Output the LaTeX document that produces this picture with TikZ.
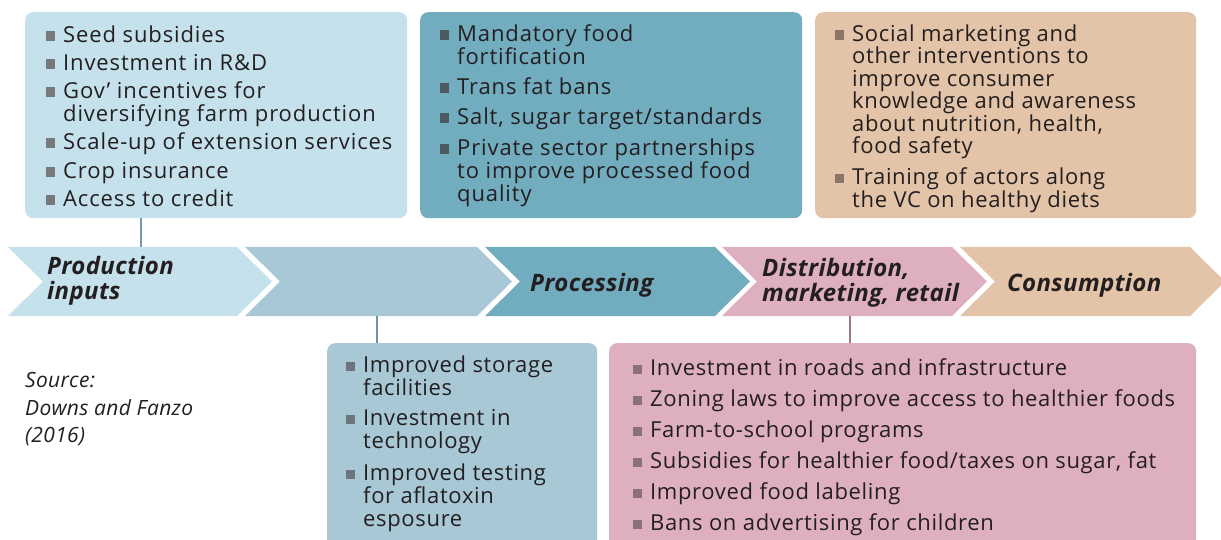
\documentclass[tikz,border=0pt]{standalone}
\usepackage{fontspec}
\setmainfont{Open Sans}
\newfontfamily\itmfont[LetterSpace=3]{Open Sans}
\newfontfamily\itmwfont[LetterSpace=4]{Open Sans}
\newfontfamily\labfont[LetterSpace=1.5]{Open Sans}
\definecolor{lb}{HTML}{C5E1EC}
\definecolor{mb}{HTML}{A8C8D5}
\definecolor{db}{HTML}{72ACBF}
\definecolor{pk}{HTML}{DEAFBF}
\definecolor{tn}{HTML}{E3C4A8}
\definecolor{txt}{HTML}{231F20}
\definecolor{lnA}{HTML}{6E9BAC}
\definecolor{lnB}{HTML}{6E95A4}
\definecolor{lnC}{HTML}{9E7783}
\definecolor{buA}{HTML}{77797C}
\definecolor{buB}{HTML}{4A5B62}
\definecolor{buC}{HTML}{8B7567}
\definecolor{buD}{HTML}{6C757B}
\definecolor{buE}{HTML}{8B6F79}
\newcommand\bitem[2]{\llap{\textcolor{#1}{\rule[1.5pt]{9.5pt}{9.5pt}}\hspace{8pt}}#2}
\begin{document}
\begin{tikzpicture}[x=1pt,y=-1pt,
  box/.style={rectangle, rounded corners=8pt, minimum height=206pt, minimum width=382pt, anchor=north west, inner sep=0pt, draw=none},
  itm/.style={anchor=base west, inner sep=0pt, align=left, text=txt, font=\itmfont\fontsize{22}{23}\selectfont},
  itmw/.style={itm, font=\itmwfont\fontsize{22}{23}\selectfont},
  itmc/.style={itm, font=\itmfont\fontsize{22}{22.5}\selectfont},
  chlab/.style={anchor=base west, inner sep=0pt, align=left, text=txt, font=\labfont\fontsize{24}{24.5}\selectfont\bfseries\itshape},
  conn/.style={line width=2.6pt},
]
\useasboundingbox (0,0) rectangle (1221,540);
\clip (0,0) rectangle (1221,540);

% top boxes
\node[box, fill=lb] (B1) at (25,12) {};
\node[box, fill=db] (B2) at (420,12) {};
\node[box, fill=tn, minimum width=381pt] (B3) at (815,12) {};
% bottom boxes
\node[box, fill=mb, minimum width=270pt, minimum height=220pt] (BL) at (327,343) {};
\node[box, fill=pk, minimum width=587pt, minimum height=220pt] (BR) at (609,343) {};

% chevrons
\fill[lb] (8,247) -- (237,247) -- (272,281.5) -- (237,316) -- (8,316) -- (43,281.5) -- cycle;
\fill[mb] (245,247) -- (477,247) -- (512,281.5) -- (477,316) -- (245,316) -- (280,281.5) -- cycle;
\fill[db] (485,247) -- (715,247) -- (750,281.5) -- (715,316) -- (485,316) -- (520,281.5) -- cycle;
\fill[pk] (722,247) -- (952,247) -- (987,281.5) -- (952,316) -- (722,316) -- (757,281.5) -- cycle;
\fill[tn] (960,247) -- (1190,247) -- (1225,281.5) -- (1190,316) -- (960,316) -- (995,281.5) -- cycle;

\coordinate (c1) at (141,247);
\coordinate (c2) at (377,316);
\coordinate (c3) at (850,316);

\node[chlab] (L1) at (47,299) {Production\\inputs};
\node[chlab] (L3) at (530,291) {Processing};
\node[chlab] (L4) at (762,301) {Distribution,\\marketing, retail};
\node[chlab] (L5) at (1007,291) {Consumption};

% connectors
\draw[conn, lnA] (B1.south -| c1) -- (c1);
\draw[conn, lnB] (c2) -- (BL.north -| c2);
\draw[conn, lnC] (c3) -- (BR.north -| c3);

\begin{scope}[yshift=-1.5pt]
% box 1 items
\node[itmw] (a1) at (63,41) {\bitem{buA}{Seed subsidies}};
\node[itmw] (a2) at (63,69) {\bitem{buA}{Investment in R\&D}};
\node[itmw] (a3) at (63,120) {\bitem{buA}{Gov’ incentives for}\\diversifying farm production};
\node[itmw] (a4) at (63,148) {\bitem{buA}{Scale-up of extension services}};
\node[itmw] (a5) at (63,177) {\bitem{buA}{Crop insurance}};
\node[itmw] (a6) at (63,205) {\bitem{buA}{Access to credit}};

% box 2 items
\node[itmw] (b1) at (457,63) {\bitem{buB}{Mandatory food}\\fortification};
\node[itmw] (b2) at (457,93) {\bitem{buB}{Trans fat bans}};
\node[itmw] (b3) at (457,123) {\bitem{buB}{Salt, sugar target/standards}};
\node[itmw] (b4) at (457,200) {\bitem{buB}{Private sector partnerships}\\to improve processed food\\quality};

% box 3 items
\node[itmc] (c1t) at (852,152.5) {\bitem{buC}{Social marketing and}\\other interventions to\\improve consumer\\knowledge and awareness\\about nutrition, health,\\food safety};
\node[itmc] (c2t) at (852,206) {\bitem{buC}{Training of actors along}\\the VC on healthy diets};

% bottom left items
\node[itm] (d1) at (363,394) {\bitem{buD}{Improved storage}\\facilities};
\node[itm] (d2) at (363,447) {\bitem{buD}{Investment in}\\technology};
\node[itm] (d3) at (363,525) {\bitem{buD}{Improved testing}\\for aflatoxin\\esposure};

% bottom right items
\node[itm] (e1) at (650,374) {\bitem{buE}{Investment in roads and infrastructure}};
\node[itm] (e2) at (650,405) {\bitem{buE}{Zoning laws to improve access to healthier foods}};
\node[itm] (e3) at (650,436) {\bitem{buE}{Farm-to-school programs}};
\node[itm] (e4) at (650,467) {\bitem{buE}{Subsidies for healthier food/taxes on sugar, fat}};
\node[itm] (e5) at (650,498) {\bitem{buE}{Improved food labeling}};
\node[itm] (e6) at (650,529) {\bitem{buE}{Bans on advertising for children}};

% source
\node[anchor=base west, inner sep=0pt, align=left, text=txt, font=\labfont\fontsize{21}{27.5}\selectfont\itshape] (src) at (25,441) {Source:\\Downs and Fanzo\\(2016)};
\end{scope}
\end{tikzpicture}
\end{document}
